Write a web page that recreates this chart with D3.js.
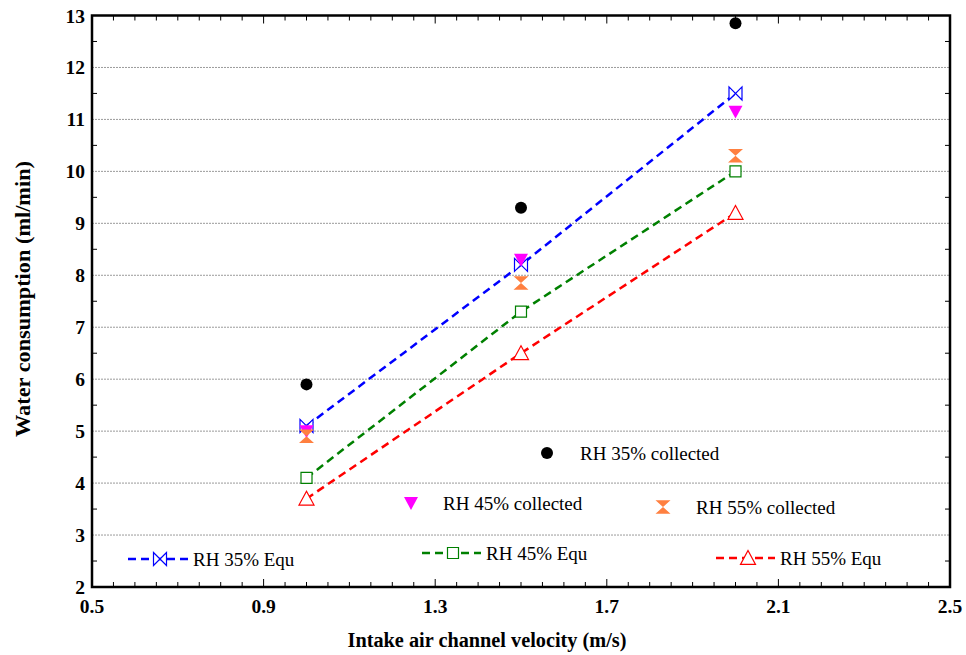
<!DOCTYPE html>
<html><head><meta charset="utf-8">
<script src="https://cdn.jsdelivr.net/npm/d3@7"></script>
<style>
html,body{margin:0;padding:0;background:#fff;}
svg{display:block;}
text{font-family:"Liberation Serif","Times New Roman",serif;}
</style></head>
<body>
<svg id="chart" width="966" height="655"></svg>
<script>
// ---- data ----
const velocity = [1.0, 1.5, 2.0];
const rh35Collected = [5.9, 9.3, 12.85];
const rh45Collected = [5.0, 8.3, 11.15];
const rh55Collected = [4.9, 7.85, 10.3];
const rh35Equ = [5.1, 8.2, 11.5];
const rh45Equ = [4.1, 7.3, 10.0];
const rh55Equ = [3.7, 6.5, 9.2];
const xTickLabels = [0.5, 0.9, 1.3, 1.7, 2.1, 2.5];
const yTickLabels = [2, 3, 4, 5, 6, 7, 8, 9, 10, 11, 12, 13];
const gridValues = [3, 4, 5, 6, 7, 8, 9, 10, 11, 12];
const xTitle = "Intake air channel velocity (m/s)";
const yTitle = "Water consumption (ml/min)";

const svg = d3.select("#chart");
const L = 92, R = 950, T = 15.5, B = 587;
const x = d3.scaleLinear().domain([0.5, 2.5]).range([L, R]);
const y = d3.scaleLinear().domain([2, 13]).range([B, T]);

// marker shapes (centered at 0,0)
function markerPath(type, s) {
  const h = s / 2;
  if (type === "bowtie") return `M${-h},${-h}L${h},${h}L${h},${-h}L${-h},${h}Z`;
  if (type === "hourglass") return `M${-h},${-h * 0.9}L${h},${-h * 0.9}L0,0L${h},${h * 0.9}L${-h},${h * 0.9}L0,0Z`;
  if (type === "square") return `M${-h},${-h}H${h}V${h}H${-h}Z`;
  if (type === "triangle") return `M0,${-h}L${h},${h * 0.85}L${-h},${h * 0.85}Z`;
  if (type === "invtri") return `M${-h},${-h * 0.85}L${h},${-h * 0.85}L0,${h}Z`;
  return "";
}

// grid
svg.append("g").selectAll("line").data(gridValues).join("line")
  .attr("x1", L).attr("x2", R).attr("y1", d => y(d)).attr("y2", d => y(d))
  .attr("stroke", "#9a9a9a").attr("stroke-width", 1).attr("stroke-dasharray", "2,1");

// axes ticks (inward)
const minorX = d3.range(0, 41).map(i => 0.5 + i * 0.05);
const majorX = xTickLabels;
const minorY = d3.range(0, 11).map(i => 2.5 + i);
const tk = svg.append("g").attr("stroke", "#000").attr("stroke-width", 1);
minorX.forEach(v => {
  const isMajor = majorX.some(m => Math.abs(m - v) < 1e-6);
  const len = isMajor ? 8 : 5;
  tk.append("line").attr("x1", x(v)).attr("x2", x(v)).attr("y1", B).attr("y2", B - len);
  tk.append("line").attr("x1", x(v)).attr("x2", x(v)).attr("y1", T).attr("y2", T + len);
});
minorY.forEach(v => {
  tk.append("line").attr("x1", L).attr("x2", L + 5).attr("y1", y(v)).attr("y2", y(v));
  tk.append("line").attr("x1", R).attr("x2", R - 5).attr("y1", y(v)).attr("y2", y(v));
});

// frame
svg.append("rect").attr("x", L).attr("y", T).attr("width", R - L).attr("height", B - T)
  .attr("fill", "none").attr("stroke", "#000").attr("stroke-width", 2.5);

// tick labels
svg.append("g").selectAll("text").data(yTickLabels).join("text")
  .attr("x", L - 7).attr("y", d => y(d) + 7).attr("text-anchor", "end")
  .attr("font-size", 19.5).attr("font-weight", "bold").text(d => d);
svg.append("g").selectAll("text").data(xTickLabels).join("text")
  .attr("x", d => x(d)).attr("y", B + 26).attr("text-anchor", "middle")
  .attr("font-size", 19.5).attr("font-weight", "bold").text(d => d.toFixed(1));

// titles
svg.append("text").attr("x", 487).attr("y", 647).attr("text-anchor", "middle")
  .attr("font-size", 20.5).attr("font-weight", "bold")
  .attr("textLength", 279).attr("lengthAdjust", "spacingAndGlyphs").text(xTitle);
svg.append("text").attr("transform", `translate(30,299) rotate(-90)`)
  .attr("text-anchor", "middle").attr("font-size", 21).attr("font-weight", "bold")
  .attr("textLength", 276).attr("lengthAdjust", "spacingAndGlyphs").text(yTitle);

// Equ series
const equSeries = [
  {vals: rh35Equ, color: "#0000ff", shape: "bowtie", size: 13, name: "RH 35% Equ", lx: 128, lm: 160, le: 188, ly: 559},
  {vals: rh45Equ, color: "#008000", shape: "square", size: 11, name: "RH 45% Equ", lx: 422, lm: 453, le: 481, ly: 553},
  {vals: rh55Equ, color: "#ff0000", shape: "triangle", size: 15, name: "RH 55% Equ", lx: 716, lm: 748, le: 775, ly: 558}
];
const line = d3.line().x((d, i) => x(velocity[i])).y(d => y(d));
equSeries.forEach(s => {
  svg.append("path").datum(s.vals).attr("d", line).attr("fill", "none")
    .attr("stroke", s.color).attr("stroke-width", 2.5).attr("stroke-dasharray", "8,5");
  svg.append("g").selectAll("path").data(s.vals).join("path")
    .attr("transform", (d, i) => `translate(${x(velocity[i])},${y(d)})`)
    .attr("d", markerPath(s.shape, s.size)).attr("fill", "#fff")
    .attr("stroke", s.color).attr("stroke-width", 1.2);
  // legend
  svg.append("line").attr("x1", s.lx).attr("x2", s.le).attr("y1", s.ly).attr("y2", s.ly)
    .attr("stroke", s.color).attr("stroke-width", 2.5).attr("stroke-dasharray", "8,5");
  svg.append("path").attr("transform", `translate(${s.lm},${s.ly})`)
    .attr("d", markerPath(s.shape, s.size)).attr("fill", "#fff")
    .attr("stroke", s.color).attr("stroke-width", 1.2);
  svg.append("text").attr("x", s.le + 5).attr("y", s.ly + 7).attr("font-size", 19).text(s.name);
});

// collected series
const colSeries = [
  {vals: rh35Collected, color: "#000", shape: "circle", size: 12, name: "RH 35% collected", lm: 547, ly: 453, tx: 580},
  {vals: rh45Collected, color: "#ff00ff", shape: "invtri", size: 14, name: "RH 45% collected", lm: 411, ly: 503, tx: 443},
  {vals: rh55Collected, color: "#ff8040", shape: "hourglass", size: 15, name: "RH 55% collected", lm: 663, ly: 507, tx: 696}
];
colSeries.forEach(s => {
  const g = svg.append("g");
  if (s.shape === "circle") {
    g.selectAll("circle").data(s.vals).join("circle")
      .attr("cx", (d, i) => x(velocity[i])).attr("cy", d => y(d)).attr("r", s.size / 2).attr("fill", s.color);
    svg.append("circle").attr("cx", s.lm).attr("cy", s.ly).attr("r", s.size / 2).attr("fill", s.color);
  } else {
    g.selectAll("path").data(s.vals).join("path")
      .attr("transform", (d, i) => `translate(${x(velocity[i])},${y(d)})`)
      .attr("d", markerPath(s.shape, s.size)).attr("fill", s.color);
    svg.append("path").attr("transform", `translate(${s.lm},${s.ly})`)
      .attr("d", markerPath(s.shape, s.size)).attr("fill", s.color);
  }
  svg.append("text").attr("x", s.tx).attr("y", s.ly + 7).attr("font-size", 19).text(s.name);
});
</script>
</body></html>
